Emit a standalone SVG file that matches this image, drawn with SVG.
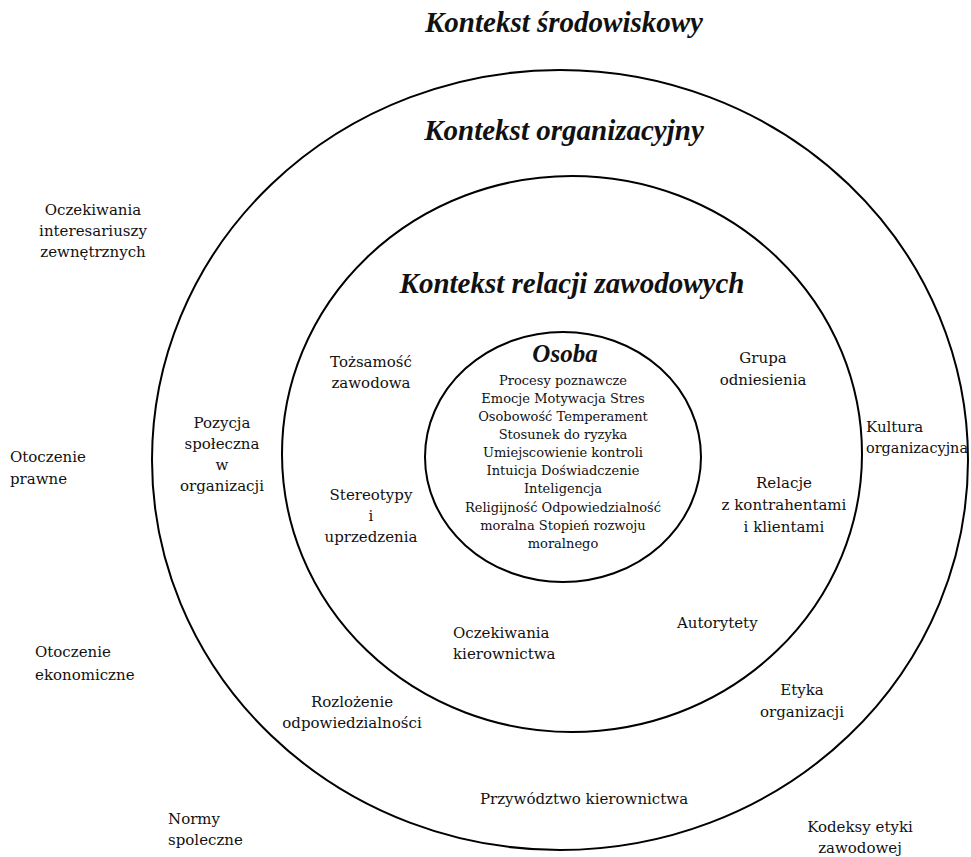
<svg xmlns="http://www.w3.org/2000/svg" width="971" height="857" viewBox="0 0 971 857">
<style>
.ring{fill:none;stroke:#000;stroke-width:2}
.t{font-family:"DejaVu Serif","Liberation Serif",serif;font-size:15px;fill:#111}
.m{text-anchor:middle}
.s{font-family:"DejaVu Serif","Liberation Serif",serif;font-size:13px;fill:#111;text-anchor:middle}
.h{font-family:"Liberation Serif","DejaVu Serif",serif;font-weight:bold;font-style:italic;font-size:29px;fill:#111;text-anchor:middle}
</style>
<rect width="971" height="857" fill="#fff"/>
<g id="ring-srodowiskowy">
<ellipse class="ring" cx="560" cy="460" rx="408" ry="390"/>
<text class="h" x="564" y="32">Kontekst środowiskowy</text>
</g>
<g id="ring-organizacyjny">
<ellipse class="ring" cx="572" cy="454" rx="290" ry="278"/>
<text class="h" x="564" y="140">Kontekst organizacyjny</text>
</g>
<g id="ring-relacji">
<ellipse class="ring" cx="563" cy="457" rx="138" ry="125"/>
<text class="h" x="572" y="293">Kontekst relacji zawodowych</text>
</g>
<g id="osoba">
<text class="h" x="565" y="362" style="font-size:25px">Osoba</text>
<text class="s" x="563" y="385">Procesy poznawcze</text>
<text class="s" x="563" y="403">Emocje Motywacja Stres</text>
<text class="s" x="563" y="421">Osobowość Temperament</text>
<text class="s" x="563" y="439">Stosunek do ryzyka</text>
<text class="s" x="563" y="457">Umiejscowienie kontroli</text>
<text class="s" x="563" y="475">Intuicja Doświadczenie</text>
<text class="s" x="563" y="493">Inteligencja</text>
<text class="s" x="563" y="512">Religijność Odpowiedzialność</text>
<text class="s" x="563" y="530">moralna Stopień rozwoju</text>
<text class="s" x="563" y="548">moralnego</text>
</g>
<g id="oczekiwania-interesariuszy"><text class="t m" x="93" y="215">Oczekiwania</text><text class="t m" x="93" y="236">interesariuszy</text><text class="t m" x="93" y="257">zewnętrznych</text></g>
<g id="otoczenie-prawne"><text class="t" x="10" y="462">Otoczenie</text><text class="t" x="10" y="484">prawne</text></g>
<g id="otoczenie-ekonomiczne"><text class="t" x="35" y="657">Otoczenie</text><text class="t" x="35" y="680">ekonomiczne</text></g>
<g id="normy-spoleczne"><text class="t" x="168" y="824">Normy</text><text class="t" x="168" y="845">spoleczne</text></g>
<g id="kodeksy-etyki"><text class="t m" x="860" y="832">Kodeksy etyki</text><text class="t m" x="860" y="853">zawodowej</text></g>
<g id="etyka-organizacji"><text class="t m" x="802" y="695">Etyka</text><text class="t m" x="802" y="717">organizacji</text></g>
<g id="kultura-organizacyjna"><text class="t" x="866" y="432">Kultura</text><text class="t" x="866" y="453" textLength="102" lengthAdjust="spacingAndGlyphs">organizacyjna</text></g>
<g id="grupa-odniesienia"><text class="t m" x="763" y="363">Grupa</text><text class="t m" x="763" y="385">odniesienia</text></g>
<g id="relacje-kontrahenci"><text class="t m" x="784" y="488">Relacje</text><text class="t m" x="784" y="510">z kontrahentami</text><text class="t m" x="784" y="532">i klientami</text></g>
<g id="tozsamosc-zawodowa"><text class="t m" x="371" y="367">Tożsamość</text><text class="t m" x="371" y="388">zawodowa</text></g>
<g id="stereotypy"><text class="t m" x="371" y="500">Stereotypy</text><text class="t m" x="371" y="521">i</text><text class="t m" x="371" y="542">uprzedzenia</text></g>
<g id="pozycja-spoleczna"><text class="t m" x="222" y="428">Pozycja</text><text class="t m" x="222" y="449">społeczna</text><text class="t m" x="222" y="470">w</text><text class="t m" x="222" y="491">organizacji</text></g>
<g id="oczekiwania-kierownictwa"><text class="t" x="453" y="638">Oczekiwania</text><text class="t" x="453" y="659">kierownictwa</text></g>
<g id="autorytety"><text class="t" x="677" y="628">Autorytety</text></g>
<g id="rozlozenie"><text class="t m" x="352" y="707">Rozlożenie</text><text class="t m" x="352" y="728">odpowiedzialności</text></g>
<g id="przywodztwo"><text class="t m" x="584" y="804">Przywództwo kierownictwa</text></g>
</svg>
